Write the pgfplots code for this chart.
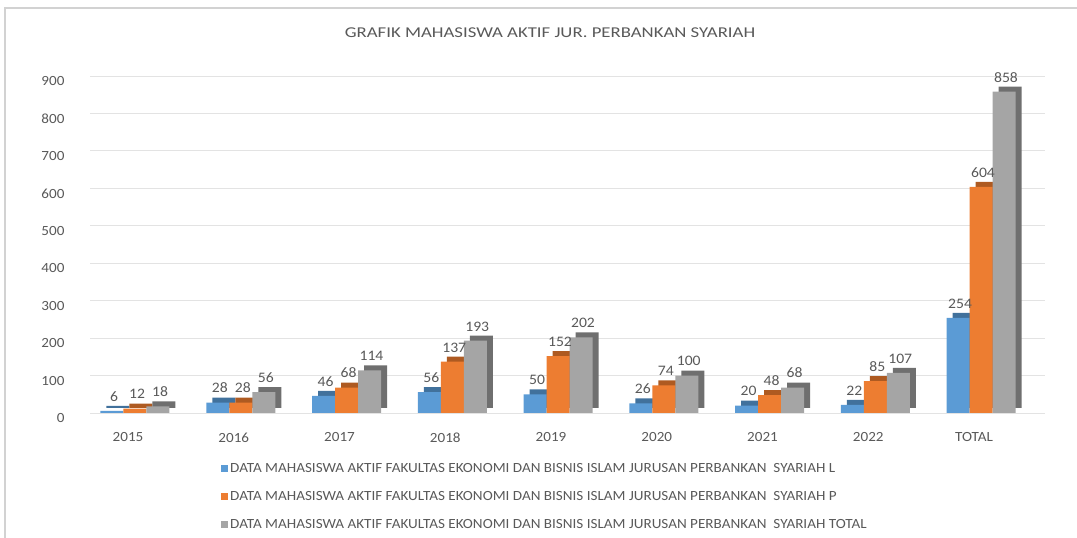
\documentclass[border=0pt]{standalone}
\usepackage{fontspec}
\setmainfont[FakeStretch=1.08]{Carlito}
\newfontfamily\titlefont[FakeStretch=1.25]{Carlito}
\usepackage{pgfplots}
\usepackage{pgfplotstable}
\pgfplotsset{compat=1.18}
\definecolor{cL}{HTML}{5B9BD5}
\definecolor{cP}{HTML}{ED7D31}
\definecolor{cT}{HTML}{A5A5A5}
\definecolor{dL}{HTML}{41719C}
\definecolor{dP}{HTML}{AE5A21}
\definecolor{dT}{HTML}{6F6F6F}
\definecolor{txt}{HTML}{595959}
\pgfplotstableread{
x L P T
0 6 12 18
1 28 28 56
2 46 68 114
3 56 137 193
4 50 152 202
5 26 74 100
6 20 48 68
7 22 85 107
8 254 604 858
}\data
\begin{document}
\begin{tikzpicture}[x=1pt,y=1pt]
\path[use as bounding box] (0,0) rectangle (1077,538);
\draw[gray!35, line width=1.2pt] (5,-2) -- (5,530) -- (1080,530);
\node[text=txt, font=\titlefont\fontsize{15}{17}\selectfont] at (550,505) {GRAFIK MAHASISWA AKTIF JUR. PERBANKAN SYARIAH};
\begin{axis}[
  at={(90pt,125pt)}, anchor=south west,
  scale only axis, width=955pt, height=337pt,
  xmin=-0.4255, xmax=8.605, ymin=0, ymax=900,
  ytick={0,100,...,900},
  ymajorgrids, grid style={gray!22, line width=0.8pt},
  axis line style={draw=none}, tick style={draw=none},
  xtick={0,...,8}, xticklabels={2015,2016,2017,2018,2019,2020,2021,2022,TOTAL},
  ticklabel style={text=txt, font=\fontsize{14}{16}\selectfont},
  /pgf/number format/assume math mode=true,
  yticklabel style={xshift=-22pt, yshift=-5pt},
  xticklabel style={yshift=-12pt, xshift=-7pt},
  ybar, bar width=23pt,
  nodes near coords style={text=txt, font=\fontsize{14.5}{16}\selectfont, yshift=6pt, xshift=2pt},
  legend style={at={(0.134,-0.136)}, anchor=north west, draw=none, fill=none,
    font=\fontsize{14}{16}\selectfont, text=txt, cells={anchor=west}, row sep=13.5pt},
  legend image code/.code={\fill[#1] (0pt,-3.5pt) rectangle (7pt,3.5pt);},
]
% depth faces
\addplot[fill=dL, draw=none, bar shift=-23pt, xshift=6pt, yshift=5pt, forget plot] table[x=x,y=L] {\data};
\addplot[fill=dP, draw=none, bar shift=0pt, xshift=6pt, yshift=5pt, forget plot] table[x=x,y=P] {\data};
\addplot[fill=dT, draw=none, bar shift=23pt, xshift=6pt, yshift=5pt, forget plot] table[x=x,y=T] {\data};
% front faces
\addplot[fill=cL, draw=none, bar shift=-23pt, nodes near coords, forget plot] table[x=x,y=L] {\data};
\addplot[fill=cP, draw=none, bar shift=0pt, nodes near coords, forget plot] table[x=x,y=P] {\data};
\addplot[fill=cT, draw=none, bar shift=23pt, nodes near coords, forget plot] table[x=x,y=T] {\data};
\addlegendimage{fill=cL, draw=none}
\addlegendentry{DATA MAHASISWA AKTIF FAKULTAS EKONOMI DAN BISNIS ISLAM JURUSAN PERBANKAN\ \ SYARIAH L}
\addlegendimage{fill=cP, draw=none}
\addlegendentry{DATA MAHASISWA AKTIF FAKULTAS EKONOMI DAN BISNIS ISLAM JURUSAN PERBANKAN\ \ SYARIAH P}
\addlegendimage{fill=cT, draw=none}
\addlegendentry{DATA MAHASISWA AKTIF FAKULTAS EKONOMI DAN BISNIS ISLAM JURUSAN PERBANKAN\ \ SYARIAH TOTAL}
\end{axis}
\end{tikzpicture}
\end{document}
